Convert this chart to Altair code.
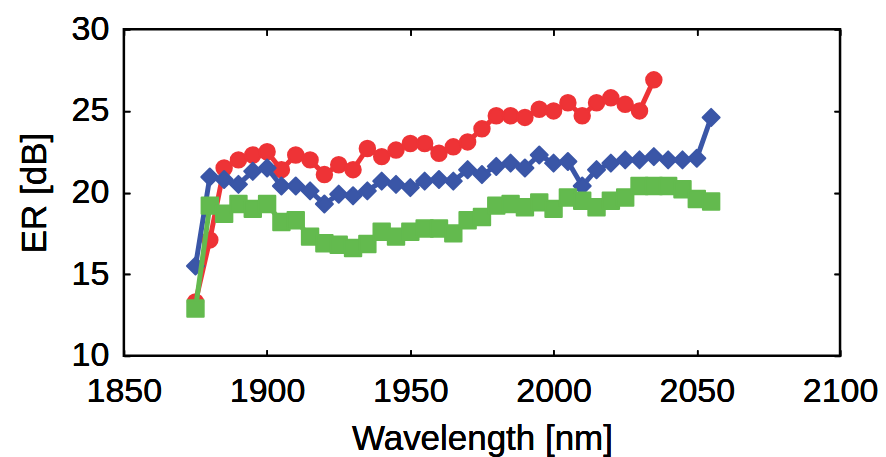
import altair as alt
import pandas as pd

wavelength = list(range(1875, 2060, 5))
red_wl = list(range(1875, 2040, 5))
red_er = [13.3, 17.1, 21.5, 22.0, 22.3, 22.5, 21.4, 22.3, 22.0, 21.1, 21.7, 21.4,
          22.7, 22.2, 22.6, 23.0, 23.0, 22.4, 22.8, 23.1, 23.9, 24.7, 24.7, 24.6,
          25.1, 25.0, 25.5, 24.7, 25.5, 25.8, 25.4, 25.0, 26.9]
blue_er = [15.5, 20.95, 20.8, 20.5, 21.3, 21.5, 20.4, 20.4, 20.1, 19.3, 19.9, 19.8,
           20.1, 20.7, 20.5, 20.3, 20.7, 20.8, 20.7, 21.4, 21.1, 21.6, 21.8, 21.5,
           22.3, 21.8, 21.9, 20.4, 21.4, 21.8, 22.0, 22.0, 22.2, 22.0, 22.0, 22.1, 24.6]
green_er = [12.9, 19.2, 18.7, 19.3, 19.0, 19.3, 18.2, 18.3, 17.3, 16.9, 16.8, 16.6,
            16.85, 17.6, 17.3, 17.6, 17.8, 17.8, 17.5, 18.3, 18.5, 19.2, 19.3, 19.1,
            19.4, 19.0, 19.7, 19.5, 19.1, 19.5, 19.7, 20.4, 20.4, 20.4, 20.2, 19.6, 19.45]

x_ticks = [1850, 1900, 1950, 2000, 2050, 2100]
y_ticks = [10, 15, 20, 25, 30]

RED = "#EE3336"
BLUE = "#3A56A7"
GREEN = "#63BA4E"
FONT = "Liberation Sans"

xscale = alt.Scale(domain=[1850, 2100], nice=False, zero=False)
yscale = alt.Scale(domain=[10, 30], nice=False, zero=False)

x_bottom = alt.Axis(values=x_ticks, orient="bottom", title="Wavelength [nm]", grid=False,
                    domain=False, offset=-6, tickSize=6, tickWidth=1.5, tickColor="black",
                    labelFontSize=34, labelFont=FONT, labelColor="black", labelPadding=19,
                    labelFlush=False, labelOverlap=False,
                    titleFontSize=35, titleFont=FONT, titleFontWeight="normal",
                    titleColor="black", titlePadding=13, format="d")
y_left = alt.Axis(values=y_ticks, orient="left", title="ER [dB]", grid=False,
                  domain=False, offset=-6, tickSize=6, tickWidth=1.5, tickColor="black",
                  labelFontSize=34, labelFont=FONT, labelColor="black", labelPadding=15,
                  labelFlush=False, labelOverlap=False,
                  titleFontSize=35, titleFont=FONT, titleFontWeight="normal",
                  titleColor="black", titlePadding=19)
x_top = alt.Axis(values=x_ticks, orient="top", title=None, grid=False, labels=False,
                 domain=False, offset=-6, tickSize=6, tickWidth=1.5, tickColor="black")
y_right = alt.Axis(values=y_ticks, orient="right", title=None, grid=False, labels=False,
                   domain=False, offset=-6, tickSize=6, tickWidth=1.5, tickColor="black")


def series(wl, er, color, shape, size):
    df = pd.DataFrame({"wl": wl, "er": er})
    base = alt.Chart(df)
    line = base.mark_line(color=color, strokeWidth=5).encode(
        x=alt.X("wl:Q", scale=xscale, axis=x_bottom),
        y=alt.Y("er:Q", scale=yscale, axis=y_left),
    )
    pts = base.mark_point(shape=shape, filled=True, opacity=1, color=color, size=size,
                          stroke=color, strokeWidth=2, strokeJoin="round").encode(
        x=alt.X("wl:Q", scale=xscale, axis=x_top),
        y=alt.Y("er:Q", scale=yscale, axis=y_right),
    )
    return [line, pts]


layers = []
layers += series(red_wl, red_er, RED, "circle", 240)
layers += series(wavelength, blue_er, BLUE, "diamond", 290)
layers += series(wavelength, green_er, GREEN, "square", 270)

chart = alt.layer(*layers).resolve_axis(x="independent", y="independent").properties(
    width=717, height=327, background="white",
    view=alt.ViewBackground(stroke="black", strokeWidth=2.5, fill="white"),
    padding={"left": 9, "top": 4, "right": 0, "bottom": 0},
).configure_view(stroke="black", strokeWidth=2.5)

chart.save("out.html", embed_options={"renderer": "svg", "actions": False})
